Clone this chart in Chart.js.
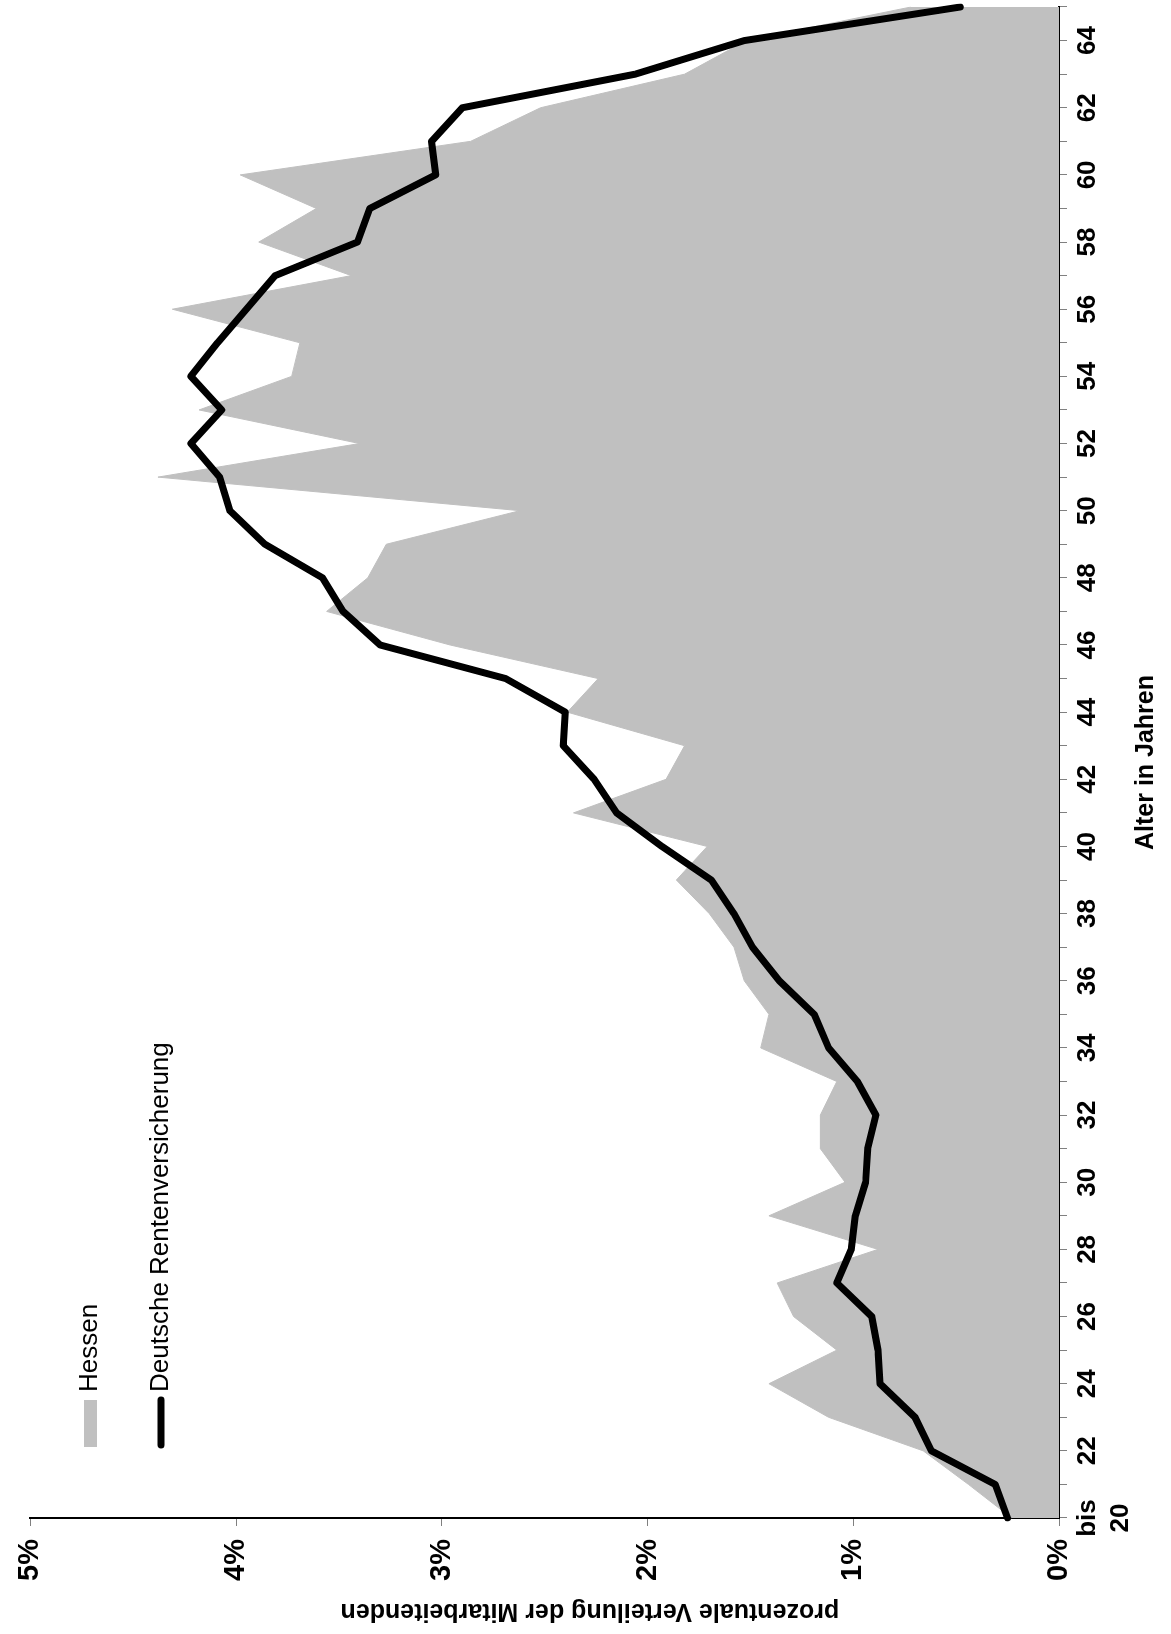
<!DOCTYPE html>
<html lang="de">
<head>
<meta charset="utf-8">
<title>Altersverteilung der Mitarbeitenden</title>
<script src="https://cdn.jsdelivr.net/npm/chart.js@4.4.1/dist/chart.umd.min.js"></script>
<style>
  html, body { margin: 0; padding: 0; background: #fff; overflow: hidden; }
  body { width: 1171px; height: 1634px; position: relative; }
  /* the chart is drawn upright and then turned 90° counter-clockwise */
  #wrap { position: absolute; left: 0; top: 0; width: 1634px; height: 1171px;
          transform-origin: 0 0; transform: translateY(1634px) rotate(-90deg); }
  #chart { display: block; }
</style>
</head>
<body>
<div id="wrap"><canvas id="chart" width="1634" height="1171"></canvas></div>
<script>
const ages = [20, 21, 22, 23, 24, 25, 26, 27, 28, 29, 30, 31, 32, 33, 34, 35, 36, 37, 38, 39, 40, 41, 42,
  43, 44, 45, 46, 47, 48, 49, 50, 51, 52, 53, 54, 55, 56, 57, 58, 59, 60, 61, 62, 63, 64, 65];

// Anteil je Altersjahr in %
const hessen = [0.23, 0.44, 0.66, 1.12, 1.41, 1.08, 1.29, 1.37, 0.88, 1.41, 1.04, 1.16, 1.16, 1.08,
  1.45, 1.41, 1.53, 1.58, 1.70, 1.86, 1.71, 2.36, 1.91, 1.82, 2.39, 2.24, 2.96, 3.56, 3.36, 3.27,
  2.62, 4.38, 3.40, 4.18, 3.73, 3.69, 4.31, 3.44, 3.89, 3.61, 3.98, 2.86, 2.52, 1.82, 1.52, 0.72];

const drv = [0.25, 0.31, 0.62, 0.70, 0.87, 0.88, 0.91, 1.08, 1.01, 0.99, 0.94, 0.93, 0.89, 0.98,
  1.12, 1.19, 1.36, 1.49, 1.58, 1.69, 1.93, 2.15, 2.26, 2.41, 2.40, 2.69, 3.30, 3.48, 3.58, 3.86,
  4.03, 4.08, 4.22, 4.07, 4.22, 4.09, 3.95, 3.81, 3.41, 3.35, 3.03, 3.05, 2.90, 2.06, 1.53, 0.48];

const percentTicks = [0, 1, 2, 3, 4, 5];

Chart.defaults.font.family = '"Liberation Sans", Arial, sans-serif';
Chart.defaults.color = '#000';

const legendPlugin = {
  id: 'sideLegend',
  afterDraw(chart) {
    const ctx = chart.ctx;
    const hes = chart.data.datasets.find(d => d.label === 'Hessen');
    const dr = chart.data.datasets.find(d => d.label === 'Deutsche Rentenversicherung');
    ctx.save();
    ctx.fillStyle = hes.backgroundColor;
    ctx.fillRect(187, 84, 47, 13);
    ctx.strokeStyle = dr.borderColor;
    ctx.lineWidth = 7;
    ctx.lineCap = 'round';
    ctx.beginPath();
    ctx.moveTo(189, 161);
    ctx.lineTo(234, 161);
    ctx.stroke();
    ctx.fillStyle = '#000';
    ctx.font = '26px "Liberation Sans", Arial, sans-serif';
    ctx.textBaseline = 'middle';
    ctx.fillText(hes.label, 242, 90);
    ctx.fillText(dr.label, 242, 161);
    ctx.restore();
  }
};

new Chart(document.getElementById('chart'), {
  type: 'line',
  data: {
    labels: ages,
    datasets: [
      {
        label: 'Deutsche Rentenversicherung',
        data: drv,
        borderColor: '#000',
        borderWidth: 7,
        borderCapStyle: 'round',
        borderJoinStyle: 'round',
        pointRadius: 0,
        tension: 0,
        fill: false,
        order: 0
      },
      {
        label: 'Hessen',
        data: hessen,
        borderColor: '#c0c0c0',
        backgroundColor: '#c0c0c0',
        borderWidth: 1,
        pointRadius: 0,
        tension: 0,
        fill: 'origin',
        order: 1
      }
    ]
  },
  options: {
    responsive: false,
    animation: false,
    layout: { padding: { top: 21, right: 7, left: 0, bottom: 0 } },
    plugins: { legend: { display: false }, tooltip: { enabled: false } },
    scales: {
      x: {
        type: 'category',
        offset: false,
        grid: { display: true, drawOnChartArea: false, drawTicks: true, tickLength: 8, color: '#808080' },
        border: { display: true, color: '#000', width: 2 },
        ticks: {
          autoSkip: false, maxRotation: 0, minRotation: 0, padding: 5,
          font: { size: 26, weight: 'bold', lineHeight: 1.25 },
          callback(value, index) {
            const age = ages[index];
            if (index === 0) return ['bis', String(age)];
            return age % 2 === 0 ? String(age) : '';
          }
        },
        title: { display: true, text: 'Alter in Jahren', font: { size: 25, weight: 'bold' }, padding: { top: 0, bottom: 10 } },
        afterFit(scale) { scale.height = 112; }
      },
      y: {
        min: percentTicks[0],
        max: percentTicks[percentTicks.length - 1],
        grid: { display: true, drawOnChartArea: false, drawTicks: true, tickLength: 8, color: '#808080' },
        border: { display: true, color: '#000', width: 2 },
        afterBuildTicks(scale) { scale.ticks = percentTicks.map(v => ({ value: v })); },
        ticks: {
          padding: 13,
          font: { size: 29, weight: 'bold' },
          callback: v => v + '%'
        },
        // trailing spaces move the title a little towards 0%, as in the original
        title: { display: true, text: 'prozentuale Verteilung der Mitarbeitenden             ', font: { size: 25, weight: 'bold' }, padding: { top: 8, bottom: 0 } },
        afterFit(scale) { scale.width = 116; }
      }
    }
  },
  plugins: [legendPlugin]
});
</script>
</body>
</html>
